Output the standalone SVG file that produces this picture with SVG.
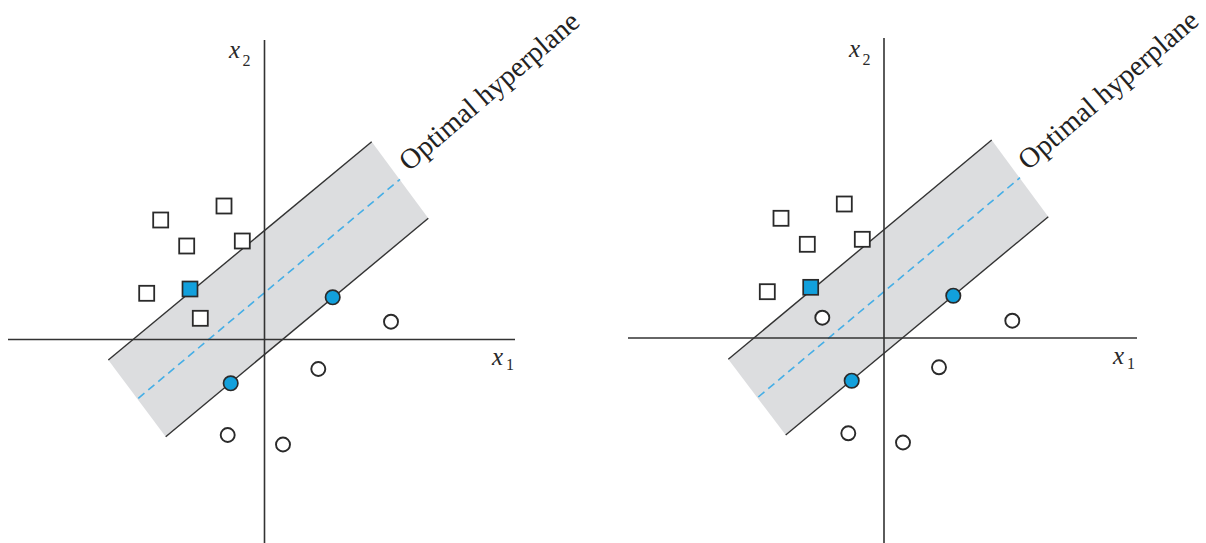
<svg xmlns="http://www.w3.org/2000/svg" width="1206" height="543" viewBox="0 0 1206 543">
<defs>
<style>
.axis{stroke:#333;stroke-width:1.6;fill:none}
.band{fill:#dcdddf;stroke:none}
.edge{stroke:#333;stroke-width:1.4;fill:none}
.hyp{stroke:#45aee6;stroke-width:1.6;stroke-dasharray:8 5;fill:none}
.sq{fill:#fff;stroke:#2a2a2a;stroke-width:1.8}
.ci{fill:#fff;stroke:#2a2a2a;stroke-width:1.9}
.sv{fill:#12a0dc;stroke:#2a2a2a;stroke-width:1.7}
.var{font-family:"Liberation Serif",serif;font-style:italic;font-size:25px;fill:#2a2a2a}
.sub{font-family:"Liberation Serif",serif;font-size:16px;fill:#2a2a2a}
.lbl{font-family:"Liberation Serif",serif;font-size:28.5px;fill:#222}
</style>
</defs>
<g id="panel-left">
  <g id="band-left">
    <polygon class="band" points="108.3,360 371.7,141.7 428.3,218.3 165.7,436.7"/>
    <line class="edge" x1="108.3" y1="360" x2="371.7" y2="141.7"/>
    <line class="edge" x1="165.7" y1="436.7" x2="428.3" y2="218.3"/>
    <line class="hyp" x1="138.3" y1="398.3" x2="400" y2="179.3"/>
  </g>
  <g id="axes-left">
    <line class="axis" x1="8" y1="339.5" x2="515" y2="339.5"/>
    <line class="axis" x1="264.5" y1="40" x2="264.5" y2="543"/>
    <text class="var" x="229" y="58">x</text><text class="sub" x="242.5" y="66">2</text>
    <text class="var" x="492" y="365">x</text><text class="sub" x="506" y="370">1</text>
  </g>
  <text id="label-left" class="lbl" transform="translate(409,172) rotate(-40.6)">Optimal hyperplane</text>
  <g id="squares-left">
    <rect class="sq" x="153.2" y="212.5" width="15" height="15"/>
    <rect class="sq" x="216.5" y="198.5" width="15" height="15"/>
    <rect class="sq" x="179.2" y="238.5" width="15" height="15"/>
    <rect class="sq" x="234.8" y="233.5" width="15" height="15"/>
    <rect class="sq" x="139.2" y="285.8" width="15" height="15"/>
    <rect class="sv" x="182.5" y="281.5" width="15" height="15"/>
    <rect class="sq" x="192.8" y="310.8" width="15" height="15"/>
  </g>
  <g id="circles-left">
    <circle class="sv" cx="332.7" cy="297.3" r="7.2"/>
    <circle class="ci" cx="391" cy="321.7" r="7"/>
    <circle class="ci" cx="318.3" cy="369" r="7"/>
    <circle class="sv" cx="230.7" cy="383.3" r="7.2"/>
    <circle class="ci" cx="227.7" cy="435" r="7"/>
    <circle class="ci" cx="283" cy="444.5" r="7"/>
  </g>
</g>
<g id="panel-right">
  <g id="band-right">
    <polygon class="band" points="728.3,359.3 991.7,140 1048.3,216.7 785.7,435"/>
    <line class="edge" x1="728.3" y1="359.3" x2="991.7" y2="140"/>
    <line class="edge" x1="785.7" y1="435" x2="1048.3" y2="216.7"/>
    <line class="hyp" x1="758.3" y1="397" x2="1020" y2="177.7"/>
  </g>
  <g id="axes-right">
    <line class="axis" x1="628" y1="338" x2="1137" y2="338"/>
    <line class="axis" x1="884" y1="38" x2="884" y2="543"/>
    <text class="var" x="849" y="57">x</text><text class="sub" x="862.5" y="65">2</text>
    <text class="var" x="1113" y="363.5">x</text><text class="sub" x="1127" y="368.5">1</text>
  </g>
  <text id="label-right" class="lbl" transform="translate(1028,171) rotate(-40.6)">Optimal hyperplane</text>
  <g id="squares-right">
    <rect class="sq" x="773.5" y="210.8" width="15" height="15"/>
    <rect class="sq" x="836.8" y="196.5" width="15" height="15"/>
    <rect class="sq" x="799.8" y="236.8" width="15" height="15"/>
    <rect class="sq" x="854.8" y="231.8" width="15" height="15"/>
    <rect class="sq" x="759.8" y="284.2" width="15" height="15"/>
    <rect class="sv" x="803.2" y="279.8" width="15" height="15"/>
  </g>
  <g id="circles-right">
    <circle class="ci" cx="822.3" cy="317.7" r="7"/>
    <circle class="sv" cx="953.3" cy="295.7" r="7.2"/>
    <circle class="ci" cx="1012.3" cy="320.7" r="7"/>
    <circle class="ci" cx="939" cy="367.3" r="7"/>
    <circle class="sv" cx="851.7" cy="380.7" r="7.2"/>
    <circle class="ci" cx="848.3" cy="433.3" r="7"/>
    <circle class="ci" cx="903" cy="442.5" r="7"/>
  </g>
</g>
</svg>
